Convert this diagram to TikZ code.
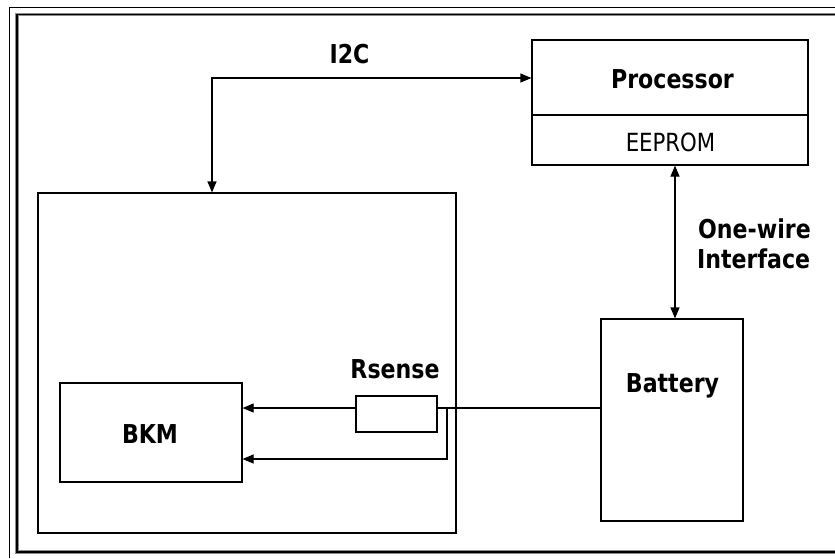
\documentclass[tikz,border=0pt]{standalone}
\usepackage{fontspec}
\newfontfamily\df{DejaVu Sans}[FakeStretch=0.85]
\usetikzlibrary{arrows.meta}
\begin{document}
\begin{tikzpicture}[x=1pt,y=-1pt,
  ln/.style={line width=1.2pt,black},
  boxn/.style={draw,ln,inner sep=0pt,fill=white},
  lbl/.style={inner sep=0pt,anchor=base,font=\df\bfseries\fontsize{26}{30}\selectfont},
  lblr/.style={inner sep=0pt,anchor=base,font=\df\fontsize{25}{28}\selectfont},
  tip/.style={-{Triangle[length=11pt,width=9pt]}},
  tips/.style={{Triangle[length=11pt,width=9pt]}-{Triangle[length=11pt,width=9pt]}}]
\useasboundingbox (0,0) rectangle (835,558);
\fill[white] (0,0) rectangle (835,558);
% window frame
\draw[line width=0.9pt] (9,558) -- (9,7) -- (835,7);
\draw[line width=3.2pt,black!45] (835,14.5) -- (17,14.5) -- (17,552) -- (835,552);
\draw[line width=1.4pt,black] (835,14.5) -- (17,14.5) -- (17,552) -- (835,552);
% boxes
\node[boxn,minimum width=276pt,minimum height=125pt] (proc) at (670,102.5) {};
\coordinate (divl) at (532,115);
\coordinate (divr) at (808,115);
\draw[ln] (divl) -- (divr);
\node[boxn,minimum width=418pt,minimum height=340pt,fill=none] (outer) at (247,363) {};
\node[boxn,minimum width=182pt,minimum height=99pt] (bkm) at (151,432.5) {};
\node[boxn,minimum width=81pt,minimum height=36pt] (rs) at (396.5,414) {};
\node[boxn,minimum width=142pt,minimum height=202pt] (bat) at (672,420) {};
% labels
\node[lbl] (tproc) at (672.5,88) {Processor};
\node[lblr] (teep) at (670.5,151) {EEPROM};
\node[lbl] (ti2c) at (349.5,63) {I2C};
\node[lbl,anchor=base west] (tone) at (698,238) {One-wire};
\node[lbl,anchor=base west] (tint) at (697,268) {Interface};
\node[lbl] (trs) at (395,378) {Rsense};
\node[lbl] (tbat) at (672.5,392) {Battery};
\node[lbl] (tbkm) at (150,443) {BKM};
% connectors
\coordinate (i2cc) at (212,78);
\draw[ln,tips] (outer.north -| i2cc) -- (i2cc) -- (i2cc -| proc.west);
\coordinate (owx) at (675,0);
\draw[ln,tips] (proc.south -| owx) -- (bat.north -| owx);
\coordinate (wy) at (0,408);
\draw[ln] (bat.west |- wy) -- (rs.east |- wy);
\draw[ln,tip] (rs.west |- wy) -- (bkm.east |- wy);
\coordinate (k1) at (447,408);
\coordinate (k2) at (447,459);
\draw[ln,tip] (k1) -- (k2) -- (bkm.east |- k2);
\end{tikzpicture}
\end{document}
